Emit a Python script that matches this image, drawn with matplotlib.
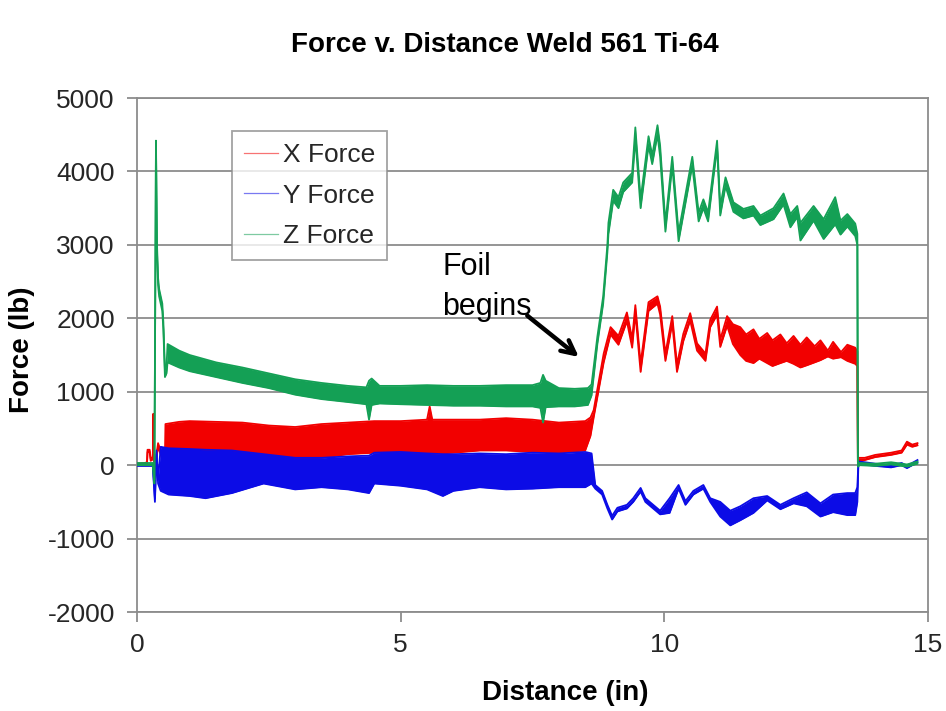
import matplotlib
matplotlib.use('Agg')
import matplotlib.pyplot as plt
from matplotlib.lines import Line2D

plt.rcParams['font.family'] = ['Liberation Sans', 'DejaVu Sans']
plt.rcParams['axes.unicode_minus'] = False

# ---------- colours ----------
RED   = '#f20000'
BLUE  = '#0c0ce6'
GREEN = '#14a055'
GRID  = '#8c8c8c'
TXT   = '#262626'

# ---------- data (lower / upper envelope of the noisy signals) ----------
# X Force
x_red = [0.00, 0.15, 0.19, 0.20, 0.24, 0.26, 0.30, 0.31, 0.33, 0.40, 0.48, 0.53, 0.54, 0.80, 1.00, 1.50,
         2.00, 2.50, 3.00, 3.50, 4.00, 4.50, 5.00, 5.50, 5.55, 5.60, 6.00, 6.50, 7.00, 7.50, 8.00, 8.50,
         8.60, 8.66, 8.85, 8.98, 9.13, 9.29, 9.39, 9.45, 9.55, 9.70, 9.87, 9.92, 10.02, 10.15, 10.24,
         10.36, 10.49, 10.62, 10.78, 10.87, 11.00, 11.06, 11.19, 11.30, 11.44, 11.55, 11.69, 11.80,
         11.95, 12.05, 12.20, 12.32, 12.45, 12.58, 12.70, 12.85, 12.96, 13.10, 13.20, 13.35, 13.47,
         13.62, 13.66, 13.67, 13.80, 14.00, 14.30, 14.50, 14.60, 14.70, 14.80]
red_lo = [0, 10, 20, 180, 180, 60, 80, 650, -100, 250, 80, 100, 150, 170, 180, 170,
          130, 100, 80, 100, 150, 170, 180, 150, 150, 150, 170, 200, 200, 180, 170, 200,
          400, 650, 1400, 1780, 1640, 1960, 1600, 2070, 1270, 2100, 2200, 2050, 1420, 1930, 1270,
          1690, 1970, 1560, 1420, 1880, 2050, 1610, 1900, 1650, 1500, 1420, 1390, 1450,
          1390, 1350, 1390, 1420, 1380, 1330, 1360, 1400, 1430, 1480, 1450, 1470, 1420,
          1380, 1350, 50, 70, 110, 140, 170, 280, 250, 270]
red_hi = [20, 30, 40, 210, 210, 90, 110, 700, -60, 300, 130, 150, 560, 590, 600, 590,
          580, 540, 520, 560, 580, 600, 600, 620, 800, 620, 620, 620, 640, 620, 580, 600,
          650, 750, 1520, 1880, 1760, 2080, 1720, 2180, 1380, 2220, 2300, 2160, 1520, 2030, 1370,
          1790, 2070, 1660, 1520, 1980, 2160, 1710, 2030, 1920, 1880, 1780, 1850, 1720,
          1800, 1700, 1780, 1660, 1760, 1640, 1740, 1620, 1700, 1560, 1680, 1540, 1640,
          1600, 1550, 100, 100, 140, 170, 200, 320, 280, 300]

# Y Force
x_blue = [0.00, 0.30, 0.34, 0.37, 0.40, 0.45, 0.60, 1.00, 1.30, 1.80, 2.40, 3.00, 3.50, 4.00, 4.40,
          4.50, 5.00, 5.50, 5.80, 6.00, 6.50, 7.00, 7.50, 8.00, 8.50, 8.62, 8.69, 8.82, 8.92, 9.01,
          9.11, 9.29, 9.41, 9.55, 9.64, 9.92, 10.10, 10.27, 10.40, 10.55, 10.74, 10.87, 11.06, 11.25,
          11.44, 11.69, 11.95, 12.20, 12.45, 12.70, 12.96, 13.20, 13.47, 13.62, 13.66, 13.68, 13.80,
          14.00, 14.30, 14.50, 14.60, 14.80]
blue_lo = [-10, -10, -500, 150, -250, -350, -400, -420, -450, -380, -250, -330, -300, -330, -380,
           -250, -280, -330, -420, -350, -300, -330, -320, -300, -300, -250, -320, -400, -590, -740,
           -630, -590, -500, -360, -500, -670, -650, -320, -540, -400, -320, -500, -700, -820,
           -750, -650, -480, -600, -520, -560, -700, -640, -680, -680, -500, 20, 10,
           -10, -30, 0, -40, 40]
blue_hi = [10, 10, -450, 200, -200, 250, 230, 220, 210, 200, 150, 100, 100, 120, 130,
           170, 180, 160, 150, 150, 160, 150, 170, 160, 180, 160, -270, -350, -540, -690,
           -580, -540, -450, -310, -450, -620, -450, -270, -490, -350, -270, -450, -500, -620,
           -560, -450, -420, -540, -450, -370, -520, -400, -380, -380, -300, 50, 40,
           20, 0, 30, -10, 70]

# Z Force
x_green = [0.00, 0.30, 0.33, 0.36, 0.38, 0.40, 0.42, 0.45, 0.48, 0.50, 0.53, 0.56, 0.58, 0.80, 1.00,
           1.50, 2.00, 2.50, 3.00, 3.50, 4.00, 4.35, 4.40, 4.45, 4.60, 5.00, 5.50, 6.00, 6.50, 7.00,
           7.50, 7.65, 7.70, 7.75, 8.00, 8.30, 8.55, 8.62, 8.73, 8.84, 8.92, 8.94, 9.03, 9.13, 9.22,
           9.39, 9.45, 9.55, 9.70, 9.77, 9.87, 9.92, 10.02, 10.15, 10.27, 10.53, 10.65, 10.74, 10.83,
           11.00, 11.06, 11.16, 11.31, 11.50, 11.69, 11.82, 12.07, 12.26, 12.39, 12.52, 12.58, 12.83,
           13.02, 13.24, 13.34, 13.47, 13.62, 13.66, 13.67, 13.70, 14.00, 14.30, 14.60, 14.80]
green_lo = [0, 0, -250, 4350, 2900, 2450, 2300, 2200, 2100, 1850, 1200, 1250, 1400, 1330, 1280,
            1200, 1120, 1050, 960, 900, 860, 830, 620, 820, 840, 830, 820, 810, 810, 800,
            800, 780, 580, 790, 800, 800, 820, 950, 1650, 2200, 2900, 3150, 3600, 3500, 3720,
            3850, 4450, 3500, 4350, 4100, 4500, 4200, 3180, 4080, 3050, 4080, 3320, 3500, 3320,
            4330, 3400, 3800, 3450, 3360, 3400, 3270, 3350, 3550, 3240, 3380, 3060, 3330,
            3080, 3280, 3140, 3250, 3120, 3000, -20, 0, -10, 10, -20, 20]
green_hi = [30, 30, -200, 4420, 3000, 2550, 2400, 2300, 2200, 1950, 1300, 1350, 1650, 1560, 1500,
            1400, 1330, 1250, 1170, 1120, 1080, 1060, 1150, 1180, 1080, 1080, 1090, 1080, 1080, 1090,
            1090, 1120, 1230, 1150, 1050, 1040, 1050, 1100, 1750, 2300, 3000, 3300, 3750, 3650, 3850,
            3980, 4600, 3620, 4480, 4220, 4630, 4350, 3300, 4200, 3170, 4200, 3440, 3620, 3440,
            4420, 3520, 3920, 3580, 3490, 3530, 3400, 3500, 3700, 3420, 3530, 3300, 3530,
            3350, 3650, 3330, 3420, 3290, 3150, 40, 30, 20, 40, 10, 50]

series = [
    ('X Force', x_red, red_lo, red_hi, RED),
    ('Y Force', x_blue, blue_lo, blue_hi, BLUE),
    ('Z Force', x_green, green_lo, green_hi, GREEN),
]

x_ticks = [0, 5, 10, 15]
y_ticks = [-2000, -1000, 0, 1000, 2000, 3000, 4000, 5000]

# ---------- figure ----------
fig = plt.figure(figsize=(9.46, 7.11), dpi=100, facecolor='white')
ax = fig.add_axes([0.1448, 0.1392, 0.8362, 0.7229])

for name, xs, lo, hi, col in series:
    ax.fill_between(xs, lo, hi, color=col, linewidth=0, zorder=3)
    ax.plot(xs, lo, color=col, linewidth=1.3, zorder=3)
    ax.plot(xs, hi, color=col, linewidth=1.3, zorder=3)

ax.set_xlim(0, 15)
ax.set_ylim(-2000, 5000)
ax.set_xticks(x_ticks)
ax.set_yticks(y_ticks)
ax.yaxis.grid(True, color=GRID, linewidth=1.3, zorder=1)
ax.set_axisbelow(True)
for sp in ax.spines.values():
    sp.set_color(GRID)
    sp.set_linewidth(1.3)
ax.tick_params(axis='both', direction='out', length=7, width=1.3, color=GRID,
               labelsize=19, labelcolor=TXT)
ax.tick_params(axis='y', pad=9)
ax.tick_params(axis='x', pad=8)

ax.set_xlabel('Distance (in)', fontsize=20, fontweight='bold', color='black', va='center')
ax.set_ylabel('Force (lb)', fontsize=20, fontweight='bold', color='black', va='center')
ax.xaxis.set_label_coords(0.542, -0.158)
ax.yaxis.set_label_coords(-0.145, 0.51)
fig.text(0.534, 0.937, 'Force v. Distance Weld 561 Ti-64', ha='center', va='center',
         fontsize=20, fontweight='bold', color='black')

# ---------- legend ----------
handles = [Line2D([0], [0], color=c, linewidth=0.9, alpha=0.55) for _, _, _, _, c in series]
leg = ax.legend(handles, [s[0] for s in series], loc='upper left',
                bbox_to_anchor=(0.120, 0.935), fontsize=19, frameon=True, fancybox=False,
                edgecolor=GRID, handlelength=1.3, handletextpad=0.2, borderpad=0.45,
                labelspacing=0.62, borderaxespad=0)
leg.get_frame().set_linewidth(1.3)
for t in leg.get_texts():
    t.set_color(TXT)

# ---------- annotation ----------
ax.text(5.79, 2590, 'Foil', fontsize=22, color='black', ha='left', va='baseline', zorder=6)
ax.text(5.79, 2040, 'begins', fontsize=22, color='black', ha='left', va='baseline', zorder=6)
ax.annotate('', xy=(8.42, 1450), xytext=(7.36, 2060),
            arrowprops=dict(arrowstyle='->', color='black', lw=3.2, mutation_scale=24), zorder=6)

fig.savefig('out.png', dpi=100, facecolor='white')
